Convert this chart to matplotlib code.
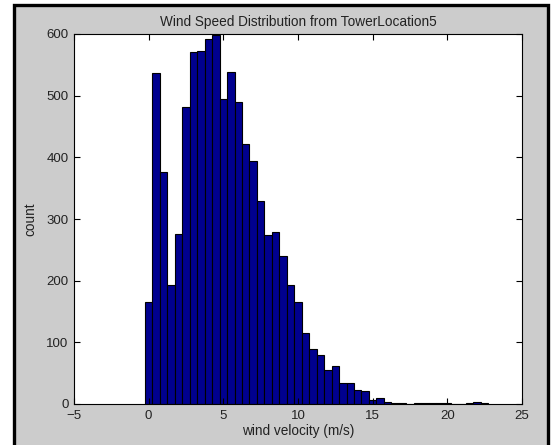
import numpy as np
import matplotlib.pyplot as plt
from matplotlib.patches import Rectangle

# histogram counts, 0.5 m/s bins starting at 0
counts = [165, 537, 377, 193, 276, 481, 571, 573, 592, 599,
          494, 538, 490, 422, 394, 330, 274, 279, 240, 193,
          165, 115, 90, 79, 55, 62, 34, 34, 23, 21,
          6, 10, 4, 2, 2, 0, 2, 2, 2, 1,
          1, 0, 0, 1, 3, 1]
bin_width = 0.5
centers = np.arange(len(counts)) * bin_width

xticks = [-5, 0, 5, 10, 15, 20, 25]
yticks = [0, 100, 200, 300, 400, 500, 600]

plt.rcParams['font.family'] = ['Liberation Sans', 'DejaVu Sans']

fig = plt.figure(figsize=(5.53, 4.45), dpi=100)
fig.patch.set_facecolor('white')

# grey panel with black frame (MATLAB window look)
W, H = 553, 445
frame = Rectangle((14 / W, -0.02), (548 - 14) / W, 1 - 5 / H + 0.02,
                  transform=fig.transFigure, facecolor='#cccccc',
                  edgecolor='black', linewidth=2.4, zorder=-10)
fig.add_artist(frame)

ax = fig.add_axes([74 / W, 1 - 404 / H, (522 - 74) / W, (404 - 34) / H])
ax.set_zorder(1)
ax.set_facecolor('white')
ax.bar(centers, counts, width=bin_width, color='#00008f',
       edgecolor='black', linewidth=0.8)

ax.set_xlim(-5, 25)
ax.set_ylim(0, 600)
ax.set_xticks(xticks)
ax.set_yticks(yticks)
ax.tick_params(direction='in', length=4, width=0.8, top=True, right=True,
               labelsize=9.5, pad=4, labelcolor='#222222')
for s in ax.spines.values():
    s.set_linewidth(0.8)

ax.set_title('Wind Speed Distribution from TowerLocation5', fontsize=9.8,
             pad=6, color='#222222')
ax.set_xlabel('wind velocity (m/s)', fontsize=9.8, labelpad=2, color='#222222')
ax.set_ylabel('count', fontsize=9.8, labelpad=6, color='#222222')

fig.savefig('out.png', dpi=100, facecolor=fig.get_facecolor())
